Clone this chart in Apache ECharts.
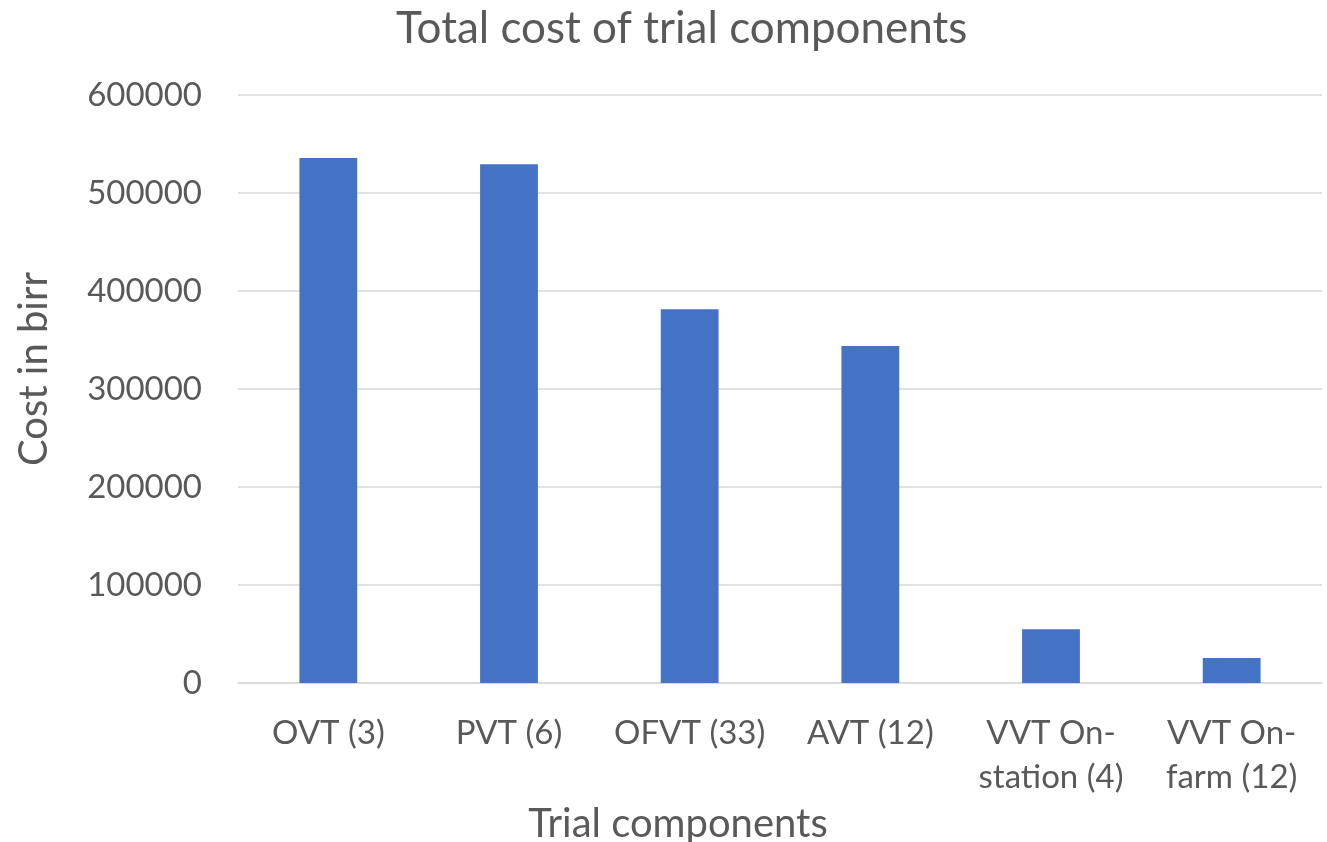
<!DOCTYPE html>
<html>
<head>
<meta charset="utf-8">
<script src="https://cdn.jsdelivr.net/npm/echarts@6/dist/echarts.min.js"></script>
<style>
  html, body { margin: 0; padding: 0; background: #fff; }
  #chart { width: 1327px; height: 842px; }
</style>
</head>
<body>
<div id="chart"></div>
<script>
  const categories = ['OVT (3)', 'PVT (6)', 'OFVT (33)', 'AVT (12)', 'VVT On-station (4)', 'VVT On-farm (12)'];
  const costs = [535700, 529300, 381300, 343900, 54800, 25500];

  const textColor = '#595959';
  const font = 'Lato';

  const chart = echarts.init(document.getElementById('chart'));
  chart.setOption({
    animation: false,
    title: {
      text: 'Total cost of trial components',
      left: 391,
      top: 2,
      textStyle: { fontFamily: font, fontSize: 44, fontWeight: 'normal', color: textColor }
    },
    grid: { left: 238, right: 5, top: 95, bottom: 159, outerBoundsMode: 'none', containLabel: false },
    xAxis: {
      type: 'category',
      data: categories,
      name: 'Trial components',
      nameLocation: 'middle',
      nameGap: 120,
      nameTextStyle: { fontFamily: font, fontSize: 40, color: textColor, padding: [0, 204, 0, 0] },
      axisLine: { lineStyle: { color: '#d9d9d9', width: 1.5 } },
      axisTick: { show: false },
      axisLabel: {
        fontFamily: font, fontSize: 33, color: textColor, margin: 28, lineHeight: 44,
        interval: 0,
        formatter: v => v.replace('On-', 'On-\n')
      }
    },
    yAxis: {
      type: 'value',
      min: 0,
      max: 600000,
      interval: 100000,
      name: 'Cost in birr',
      nameLocation: 'middle',
      nameGap: 184,
      nameRotate: 90,
      nameTextStyle: { fontFamily: font, fontSize: 40, color: textColor, padding: [0, 0, 0, 40] },
      axisLine: { show: false },
      axisTick: { show: false },
      axisLabel: { fontFamily: font, fontSize: 33, color: textColor, margin: 36, formatter: v => String(v) },
      splitLine: { lineStyle: { color: '#d9d9d9', width: 1.5 } }
    },
    series: [{
      type: 'bar',
      data: costs,
      barWidth: '32%',
      itemStyle: { color: '#4472C4' }
    }]
  });
</script>
</body>
</html>
